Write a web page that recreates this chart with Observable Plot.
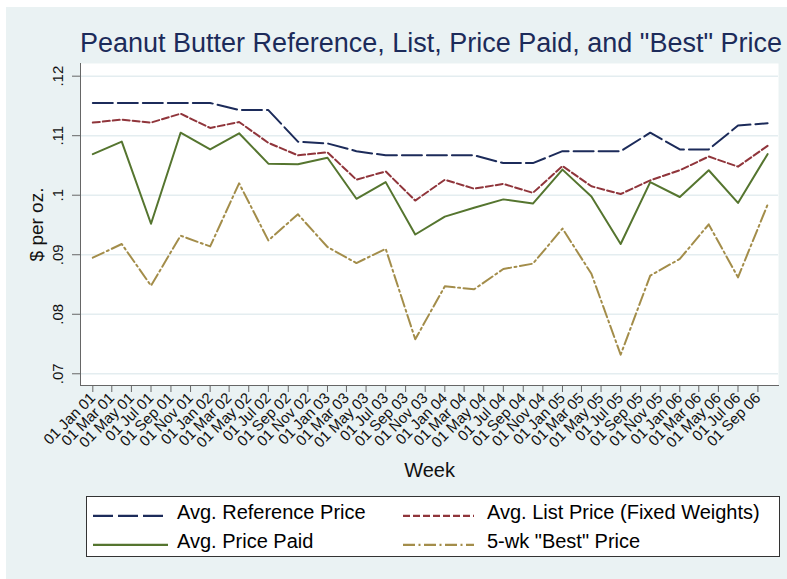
<!DOCTYPE html>
<html><head><meta charset="utf-8">
<script src="https://cdn.jsdelivr.net/npm/d3@7"></script>
<script src="https://cdn.jsdelivr.net/npm/@observablehq/plot@0.6"></script>
<style>
body{margin:0;background:#fff;}
#wrap{position:relative;width:787px;height:579px;overflow:hidden;font-family:"Liberation Sans",Arial,sans-serif;}
#bg{position:absolute;left:6px;top:7px;right:0;bottom:0;background:#EAF2F3;}
#title{position:absolute;left:80px;width:698px;top:30px;text-align:center;font-size:27px;line-height:27px;color:#1c2b5a;white-space:nowrap;}
#chart{position:absolute;left:0;top:0;}
#legend{position:absolute;left:86px;top:496px;width:692px;height:59px;background:#fff;border:1px solid #333;}
.key{position:absolute;width:75px;height:10px;}
.lab{position:absolute;font-size:20px;line-height:20px;color:#000;white-space:nowrap;}
</style></head>
<body>
<div id="wrap">
  <div id="bg"></div>
  <div id="chart"></div>
  <div id="title">Peanut Butter Reference, List, Price Paid, and "Best" Price</div>
  <div id="legend"></div>
</div>
<script>
// ---- data (quarterly observations) ----
const weeks = ["2001-01-01","2001-04-01","2001-07-01","2001-10-01",
  "2002-01-01","2002-04-01","2002-07-01","2002-10-01",
  "2003-01-01","2003-04-01","2003-07-01","2003-10-01",
  "2004-01-01","2004-04-01","2004-07-01","2004-10-01",
  "2005-01-01","2005-04-01","2005-07-01","2005-10-01",
  "2006-01-01","2006-04-01","2006-07-01","2006-10-01"];
const refPrice = [0.1155,0.1155,0.1155,0.1155,0.1155,0.1143,0.1143,0.1090,0.1087,0.1074,0.1067,0.1067,
  0.1067,0.1067,0.1054,0.1054,0.1074,0.1074,0.1074,0.1105,0.1077,0.1077,0.1117,0.1121];
const listPrice = [0.1122,0.1127,0.1122,0.1137,0.1113,0.1123,0.1088,0.1067,0.1072,0.1026,0.1040,0.0991,
  0.1026,0.1011,0.1019,0.1004,0.1049,0.1015,0.1002,0.1025,0.1042,0.1065,0.1048,0.1083];
const paidPrice = [0.1069,0.1090,0.0952,0.1105,0.1077,0.1104,0.1053,0.1052,0.1063,0.0994,0.1022,0.0934,
  0.0964,0.0979,0.0993,0.0986,0.1043,0.0998,0.0918,0.1022,0.0997,0.1042,0.0987,0.1069];
const bestPrice = [0.0895,0.0918,0.0848,0.0932,0.0914,0.1020,0.0924,0.0968,0.0913,0.0886,0.0910,0.0758,
  0.0847,0.0842,0.0876,0.0885,0.0944,0.0868,0.0732,0.0865,0.0893,0.0951,0.0862,0.0984];
const seriesNames = ["Avg. Reference Price","Avg. List Price (Fixed Weights)","Avg. Price Paid","5-wk \"Best\" Price"];
const seriesColors = ["#1c2b5a","#90353b","#55752f","#a38d4a"];
const seriesDash = ["20,5","7,3","none","12,3.5,2,3.5"];
const yTicks = [0.07,0.08,0.09,0.10,0.11,0.12];
const yTickLabels = [".07",".08",".09",".1",".11",".12"];
const xTitle = "Week";
const yTitle = "$ per oz.";

// ---- build table ----
const allSeries = [refPrice, listPrice, paidPrice, bestPrice];
const rows = [];
allSeries.forEach((vals, s) => vals.forEach((v, i) => rows.push({week: new Date(weeks[i] + "T00:00:00Z"), value: v, series: seriesNames[s]})));
const xTicks = d3.utcMonth.every(2).range(new Date(Date.UTC(2001,0,1)), new Date(Date.UTC(2006,9,1)));

const lineMarks = seriesNames.map((name, s) => Plot.line(rows.filter(r => r.series === name), {
  x: "week", y: "value", stroke: seriesColors[s], strokeWidth: 2,
  strokeDasharray: seriesDash[s] === "none" ? null : seriesDash[s], strokeLinejoin: "round"
}));

const chart = Plot.plot({
  width: 787, height: 490,
  marginLeft: 80, marginRight: 9, marginTop: 63, marginBottom: 105,
  style: {background: "transparent", fontFamily: "'Liberation Sans', Arial, sans-serif"},
  x: {type: "utc", label: null, domain: [new Date(Date.UTC(2000,10,23,16)), new Date(Date.UTC(2006,10,4))]},
  y: {label: null, domain: [0.06803, 0.12213]},
  marks: [
    Plot.frame({fill: "white", stroke: null}),
    Plot.ruleY(yTicks, {stroke: "#e4edf0", strokeWidth: 1.5}),
    ...lineMarks,
    Plot.frame({anchor: "left", stroke: "#666"}),
    Plot.frame({anchor: "bottom", stroke: "#666"}),
    Plot.axisY({ticks: yTicks, tickSize: 8, tickFormat: () => "", label: null, stroke: "#666"}),
    Plot.text(yTicks, {y: d => d, text: (d, i) => yTickLabels[i], frameAnchor: "left", dx: -22, rotate: -90,
      textAnchor: "middle", lineAnchor: "middle", fontSize: 15, fill: "#111"}),
    Plot.axisX({ticks: xTicks, tickFormat: d3.utcFormat("%d %b %y"), tickRotate: -45, tickSize: 7, tickPadding: 3,
      label: null, fontSize: 15, stroke: "#666", fill: "#111"}),
    Plot.text([yTitle], {frameAnchor: "left", dx: -44, rotate: -90, textAnchor: "middle", lineAnchor: "middle", fontSize: 19, fill: "#111"}),
    Plot.text([xTitle], {frameAnchor: "bottom", dy: 85, textAnchor: "middle", lineAnchor: "middle", fontSize: 20, fill: "#111"})
  ]
});
document.getElementById("chart").appendChild(chart);

// ---- legend ----
const legend = document.getElementById("legend");
const pos = [[6, 90, 15], [316, 400, 15], [6, 90, 44], [316, 400, 44]];
seriesNames.forEach((name, s) => {
  const [kx, tx, cy] = pos[s];
  const key = document.createElement("div");
  key.className = "key";
  key.style.left = kx + "px"; key.style.top = (cy - 5) + "px";
  key.style.width = (s % 2 === 0 ? 75 : 71) + "px";
  key.innerHTML = `<svg width="75" height="10"><line x1="0" x2="75" y1="5" y2="5" stroke="${seriesColors[s]}" stroke-width="2.5" ${seriesDash[s] === "none" ? "" : `stroke-dasharray="${seriesDash[s]}"`}/></svg>`;
  key.style.overflow = "hidden";
  legend.appendChild(key);
  const lab = document.createElement("div");
  lab.className = "lab";
  lab.style.left = tx + "px"; lab.style.top = (cy - 10) + "px";
  lab.textContent = name;
  legend.appendChild(lab);
});
</script>
</body></html>
